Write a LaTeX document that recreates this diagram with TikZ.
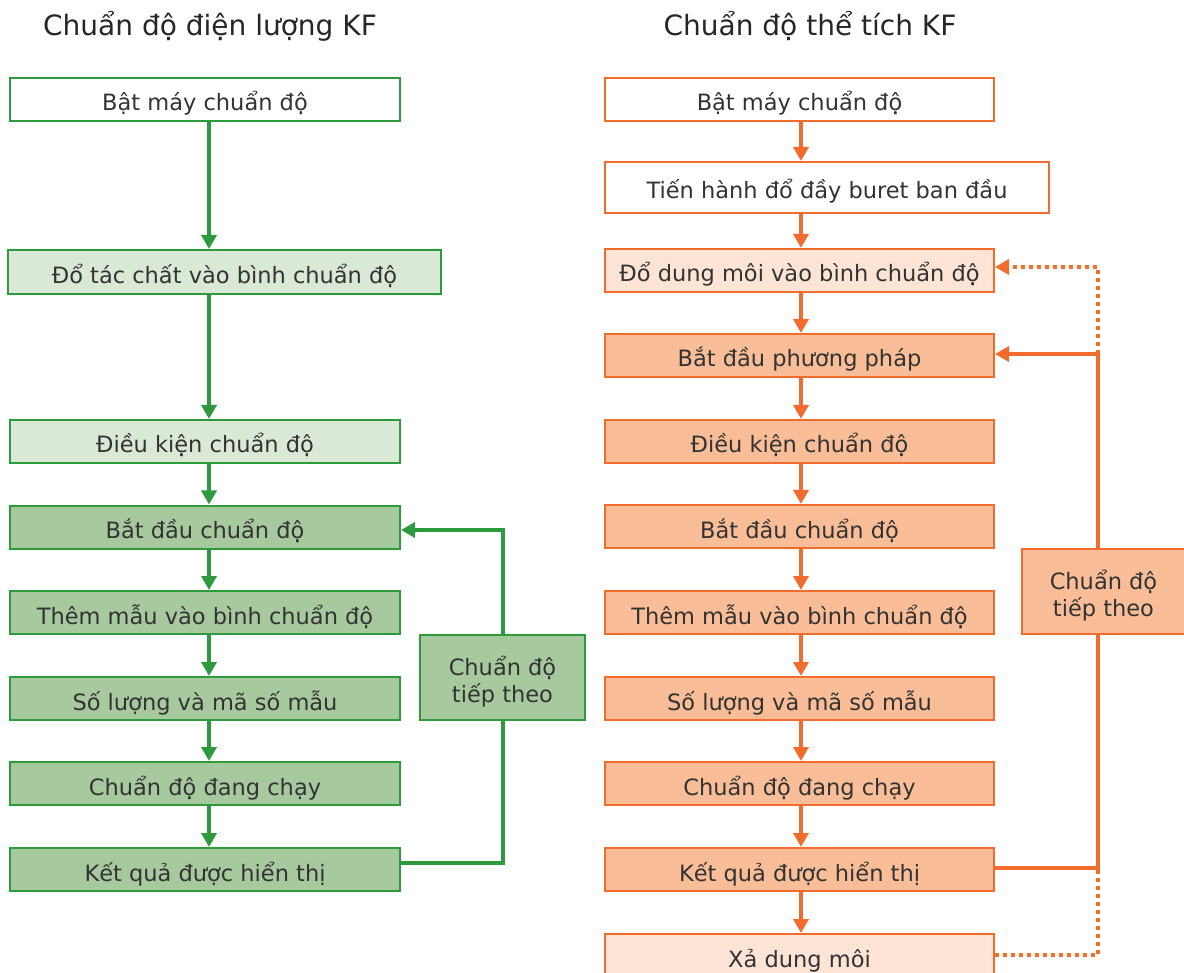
\documentclass[tikz,border=0pt]{standalone}
\usepackage{fontspec}
\setmainfont{DejaVu Sans}
\usetikzlibrary{arrows.meta}
\definecolor{gline}{HTML}{2E9A3E}
\definecolor{gfillA}{HTML}{DAE8D6}
\definecolor{gfillB}{HTML}{A7C99E}
\definecolor{oline}{HTML}{F26D2D}
\definecolor{ofillA}{HTML}{FDE4D4}
\definecolor{ofillB}{HTML}{F9BD97}
\definecolor{txt}{HTML}{333333}
\tikzset{
  bx/.style={draw, line width=2pt, inner sep=0pt, text=txt, font=\fontsize{22.5}{27}\selectfont, align=center, text height=23pt, text depth=0pt},
  twoline/.style={text height=50pt, text depth=0pt},
  gbx/.style={bx, draw=gline},
  obx/.style={bx, draw=oline},
  garr/.style={draw=gline, line width=4pt, -{Triangle[length=14pt,width=15pt]}},
  gln/.style={draw=gline, line width=4pt},
  oarr/.style={draw=oline, line width=4pt, -{Triangle[length=14pt,width=15pt]}},
  oln/.style={draw=oline, line width=4pt},
  odot/.style={draw=oline, line width=4pt, dash pattern=on 4pt off 4pt},
  ttl/.style={text=black!85, font=\fontsize{28}{32}\selectfont, anchor=base, inner sep=0pt},
}
\begin{document}
\begin{tikzpicture}[x=1pt,y=-1pt]
\useasboundingbox (0,0) rectangle (1184,973);
% titles
\node[ttl] (t1) at (210,36) {Chuẩn độ điện lượng KF};
\node[ttl] (t2) at (810,36) {Chuẩn độ thể tích KF};
% left column
\node[gbx, fill=white, minimum width=390pt, minimum height=43pt] (g1) at (205,99.5) {Bật máy chuẩn độ};
\node[gbx, fill=gfillA, minimum width=433pt, minimum height=44pt] (g2) at (224.5,272) {Đổ tác chất vào bình chuẩn độ};
\node[gbx, fill=gfillA, minimum width=390pt, minimum height=43pt] (g3) at (205,441.5) {Điều kiện chuẩn độ};
\node[gbx, fill=gfillB, minimum width=390pt, minimum height=43pt] (g4) at (205,527) {Bắt đầu chuẩn độ};
\node[gbx, fill=gfillB, minimum width=390pt, minimum height=43pt] (g5) at (205,612.5) {Thêm mẫu vào bình chuẩn độ};
\node[gbx, fill=gfillB, minimum width=390pt, minimum height=43pt] (g6) at (205,698.5) {Số lượng và mã số mẫu};
\node[gbx, fill=gfillB, minimum width=390pt, minimum height=43pt] (g7) at (205,783.5) {Chuẩn độ đang chạy};
\node[gbx, fill=gfillB, minimum width=390pt, minimum height=43pt] (g8) at (205,869.5) {Kết quả được hiển thị};
\node[gbx, twoline, fill=gfillB, minimum width=165pt, minimum height=85pt] (gs) at (502.5,677.5) {Chuẩn độ\\tiếp theo};
\coordinate (gc1) at (503,863);
\coordinate (gc2) at (503,530);
\path[garr] (g1.south -| 209,0) -- (g2.north -| 209,0);
\path[garr] (g2.south -| 209,0) -- (g3.north -| 209,0);
\path[garr] (g3.south -| 209,0) -- (g4.north -| 209,0);
\path[garr] (g4.south -| 209,0) -- (g5.north -| 209,0);
\path[garr] (g5.south -| 209,0) -- (g6.north -| 209,0);
\path[garr] (g6.south -| 209,0) -- (g7.north -| 209,0);
\path[garr] (g7.south -| 209,0) -- (g8.north -| 209,0);
\path[gln] (g8.east |- gc1) -- (gc1) -- (gs.south -| gc1);
\path[garr] (gs.north -| gc2) -- (gc2) -- (g4.east |- gc2);
% right column
\node[obx, fill=white, minimum width=389pt, minimum height=43pt] (o1) at (799.5,99.5) {Bật máy chuẩn độ};
\node[obx, fill=white, minimum width=444pt, minimum height=51pt] (o2) at (827,187.5) {Tiến hành đổ đầy buret ban đầu};
\node[obx, fill=ofillA, minimum width=389pt, minimum height=43pt] (o3) at (799.5,270.5) {Đổ dung môi vào bình chuẩn độ};
\node[obx, fill=ofillB, minimum width=389pt, minimum height=43pt] (o4) at (799.5,355.5) {Bắt đầu phương pháp};
\node[obx, fill=ofillB, minimum width=389pt, minimum height=43pt] (o5) at (799.5,441.5) {Điều kiện chuẩn độ};
\node[obx, fill=ofillB, minimum width=389pt, minimum height=43pt] (o6) at (799.5,526.5) {Bắt đầu chuẩn độ};
\node[obx, fill=ofillB, minimum width=389pt, minimum height=43pt] (o7) at (799.5,612.5) {Thêm mẫu vào bình chuẩn độ};
\node[obx, fill=ofillB, minimum width=389pt, minimum height=43pt] (o8) at (799.5,698.5) {Số lượng và mã số mẫu};
\node[obx, fill=ofillB, minimum width=389pt, minimum height=43pt] (o9) at (799.5,783.5) {Chuẩn độ đang chạy};
\node[obx, fill=ofillB, minimum width=389pt, minimum height=43pt] (o10) at (799.5,869.5) {Kết quả được hiển thị};
\node[obx, fill=ofillA, minimum width=389pt, minimum height=43pt] (o11) at (799.5,955.5) {Xả dung môi};
\node[obx, twoline, fill=ofillB, minimum width=163pt, minimum height=85pt] (os) at (1103.5,591.5) {Chuẩn độ\\tiếp theo};
\coordinate (oc1) at (1098,868);
\coordinate (oc2) at (1098,354);
\coordinate (oc3) at (1098,955);
\coordinate (oc4) at (1098,267);
\path[oarr] (o1.south -| 801,0) -- (o2.north -| 801,0);
\path[oarr] (o2.south -| 801,0) -- (o3.north -| 801,0);
\path[oarr] (o3.south -| 801,0) -- (o4.north -| 801,0);
\path[oarr] (o4.south -| 801,0) -- (o5.north -| 801,0);
\path[oarr] (o5.south -| 801,0) -- (o6.north -| 801,0);
\path[oarr] (o6.south -| 801,0) -- (o7.north -| 801,0);
\path[oarr] (o7.south -| 801,0) -- (o8.north -| 801,0);
\path[oarr] (o8.south -| 801,0) -- (o9.north -| 801,0);
\path[oarr] (o9.south -| 801,0) -- (o10.north -| 801,0);
\path[oarr] (o10.south -| 801,0) -- (o11.north -| 801,0);
\path[oln] (o10.east |- oc1) -- (oc1) -- (os.south -| oc1);
\path[oarr] (os.north -| oc2) -- (oc2) -- (o4.east |- oc2);
\path[odot] (o11.east |- oc3) -- (oc3) -- (oc1);
\path[odot, -{Triangle[length=14pt,width=15pt]}] (oc2) -- (oc4) -- (o3.east |- oc4);
\end{tikzpicture}
\end{document}
